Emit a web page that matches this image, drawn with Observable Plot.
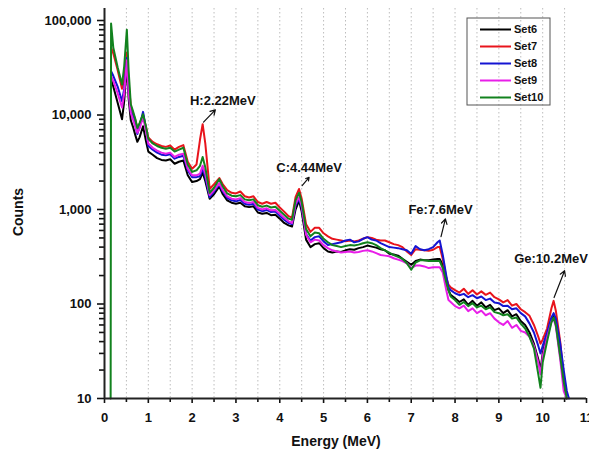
<!DOCTYPE html>
<html><head><meta charset="utf-8">
<script src="https://cdn.jsdelivr.net/npm/d3@7"></script>
<script src="https://cdn.jsdelivr.net/npm/@observablehq/plot@0.6"></script>
<style>body{margin:0;background:#fff;} #chart{position:relative;width:589px;height:449px;}</style>
</head><body><div id="chart"></div>
<script>
const energy = [0.14,0.15,0.2,0.3,0.4,0.45,0.51,0.55,0.6,0.65, 0.7,0.75,0.8,0.88,0.95,1.0,1.1,1.2,1.3,1.4, 1.5,1.6,1.7,1.8,1.9,2.0,2.1,2.18,2.24,2.3, 2.4,2.5,2.62,2.7,2.8,2.9,3.0,3.1,3.2,3.3, 3.4,3.5,3.6,3.7,3.8,3.9,4.0,4.1,4.2,4.28, 4.36,4.44,4.5,4.6,4.7,4.8,4.9,5.0,5.1,5.2, 5.3,5.4,5.5,5.6,5.7,5.8,5.9,6.0,6.1,6.2, 6.3,6.4,6.5,6.6,6.7,6.8,6.9,7.0,7.1,7.2, 7.3,7.4,7.5,7.6,7.65,7.72,7.8,7.85,7.9,8.0, 8.1,8.2,8.3,8.4,8.5,8.6,8.7,8.8,8.9,9.0, 9.1,9.2,9.3,9.4,9.5,9.6,9.7,9.8,9.9,9.95, 10.0,10.1,10.2,10.25,10.3,10.4,10.48,10.55,10.6];

const set6 = [null,24000,20000,13500,9000,14000,34000,15000,8800,7500, 6200,5200,5800,7600,5200,4100,3800,3500,3350,3300, 3400,3050,3200,3300,2300,1950,2000,2100,2450,2000, 1300,1450,1750,1450,1250,1180,1150,1180,1080,1060, 1080,930,900,920,870,880,800,720,680,660, 1000,1240,950,480,400,430,440,390,360,350, 360,355,370,380,375,390,400,415,405,395, 380,370,340,335,325,300,280,260,285,295, 290,290,295,300,300,260,175,140,125,115, 105,112,98,108,96,104,92,98,86,90, 80,86,74,78,66,60,50,38,26,20, 30,48,70,76,62,30,14,10,null];

const set7 = [null,52000,45000,30000,19000,24000,46000,22000,12500,10500, 9000,7300,8000,10000,7400,5800,5200,4900,4700,4600, 4750,4300,4600,4800,3200,2700,3000,5500,8000,5000, 1650,1850,2150,1850,1600,1500,1480,1550,1380,1340, 1380,1200,1150,1200,1150,1180,1050,950,850,820, 1350,1650,1300,700,580,640,640,560,520,490, 480,470,460,470,460,470,490,510,500,480, 470,470,450,430,420,400,360,330,380,375, 370,365,375,400,400,300,190,160,150,140, 132,145,128,140,126,136,125,132,118,112, 104,110,96,100,88,82,75,60,45,38, 42,55,90,108,85,40,17,11,null];

const set8 = [null,29000,26000,20000,14000,19000,40000,18000,11000,9500, 8000,6300,7500,10800,7000,4700,4300,4000,3800,3750, 3850,3450,3600,3700,2600,2200,2200,2250,2700,2200, 1350,1550,1850,1550,1330,1250,1220,1260,1150,1120, 1150,1000,960,990,940,950,860,780,720,700, 1100,1300,1050,550,470,510,520,460,420,430, 440,450,470,480,450,460,490,510,480,470, 440,420,400,395,390,380,370,340,410,380, 370,380,400,450,470,330,200,150,140,130, 124,128,118,124,115,120,110,114,104,102, 95,96,88,90,80,74,62,50,36,30, 36,50,72,80,70,38,20,12,10];

const set9 = [null,26000,23000,17000,12000,17000,38000,17000,10500,9000, 7600,6500,7200,9500,6600,5000,4500,4200,4000,3900, 4000,3600,3800,3900,2700,2300,2300,2400,2900,2400, 1420,1600,1900,1600,1380,1300,1280,1320,1200,1170, 1200,1040,1000,1030,980,990,900,820,750,720, 1150,1350,1100,540,450,480,470,420,390,370, 360,350,355,360,350,355,365,370,360,345, 330,325,320,305,295,285,270,240,255,255, 250,240,245,245,245,215,140,110,105,95, 90,96,84,90,80,85,76,80,70,64, 60,66,56,60,52,50,45,36,24,18, 28,44,65,70,58,26,12,10,null];

const set10 = [10,93000,52000,32000,21000,33000,80000,30000,13000,11000, 9200,7300,8200,10200,7400,5600,5000,4700,4500,4400, 4500,4100,4300,4500,3000,2500,2600,2900,3600,2800, 1500,1700,2100,1750,1480,1400,1380,1420,1280,1250, 1280,1110,1070,1100,1050,1070,970,880,800,780, 1250,1500,1200,620,520,570,560,490,450,420, 410,400,410,420,415,425,440,450,440,420, 390,370,350,330,315,300,270,230,275,290, 290,285,285,285,285,240,170,140,120,110, 98,105,95,102,92,96,88,92,82,80, 76,78,70,72,62,55,45,34,18,13, 24,40,64,72,60,28,15,10,null];

const seriesNames = ["Set6","Set7","Set8","Set9","Set10"];
const seriesColors = ["#000000","#e8141c","#1414d2","#e81ee8","#12821e"];

const xMajorTicks = [0,1,2,3,4,5,6,7,8,9,10,11];
const xMinorTicks = [0.5,1.5,2.5,3.5,4.5,5.5,6.5,7.5,8.5,9.5,10.5];
const xGridLines = [0.5,1,1.5,2,2.5,3,3.5,4,4.5,5,5.5,6,6.5,7,7.5,8,8.5,9,9.5,10,10.5];
const yMajorTicks = [10,100,1000,10000,100000];
const yMinorTicks = [20,30,40,50,60,70,80,90,200,300,400,500,600,700,800,900,2000,3000,4000,5000,6000,7000,8000,9000,20000,30000,40000,50000,60000,70000,80000,90000];

const annLabels = ["H:2.22MeV","C:4.44MeV","Fe:7.6MeV","Ge:10.2MeV"];
const annTextE = [2.70, 4.67, 7.67, 10.19];
const annTextC = [14000, 2730, 990, 302];
const annFromE = [2.26, 4.51, 7.68, 10.26];
const annFromC = [8400, 1790, 516, 117];
const annToE = [2.53, 4.67, 7.78, 10.50];
const annToC = [11350, 2190, 794, 225];

const seriesValues = [set6, set7, set8, set9, set10];
const rows = [];
seriesNames.forEach((name, i) => energy.forEach((e, j) => {
  const v = seriesValues[i][j];
  if (v != null) rows.push({energy: e, counts: v, set: name});
}));
const annotations = annLabels.map((label, i) => ({label, tx: annTextE[i], ty: annTextC[i], x1: annFromE[i], y1: annFromC[i], x2: annToE[i], y2: annToC[i]}));

const plot = Plot.plot({
  width: 589, height: 449,
  marginLeft: 104, marginRight: 3, marginTop: 8, marginBottom: 51,
  style: {fontFamily: "'Liberation Sans', Arial, sans-serif", fontWeight: "bold", fontSize: "13px", background: "#fff", color: "#111"},
  x: {domain: [0, 11]},
  y: {type: "log", domain: [10, 134000]},
  color: {domain: seriesNames, range: seriesColors},
  marks: [
    Plot.ruleX(xGridLines, {stroke: "#bdbdbd", strokeDasharray: "1.5,2.5", strokeWidth: 1}),
    Plot.line(rows, {x: "energy", y: "counts", z: "set", stroke: "set", strokeWidth: 2, strokeLinejoin: "round"}),
    Plot.axisX({ticks: xMajorTicks, tickSize: 5, tickPadding: 9, label: null, tickFormat: d => String(d), strokeWidth: 1.6}),
    Plot.axisX({ticks: xMinorTicks, tickSize: 4, tickFormat: () => "", label: null, strokeWidth: 1.6}),
    Plot.axisY({ticks: yMajorTicks, tickSize: 7, tickPadding: 6, tickFormat: ",", label: null, strokeWidth: 1.6}),
    Plot.axisY({ticks: yMinorTicks, tickSize: 5, tickFormat: () => "", label: null, strokeWidth: 1.6}),
    Plot.ruleX([0], {stroke: "#222", strokeWidth: 2}),
    Plot.ruleY([10], {stroke: "#222", strokeWidth: 2}),
    Plot.text(annotations, {x: "tx", y: "ty", text: "label", fontSize: 13, fontWeight: "bold", fill: "#111"}),
    Plot.arrow(annotations, {x1: "x1", y1: "y1", x2: "x2", y2: "y2", stroke: "#111", strokeWidth: 1.2, headLength: 7})
  ]
});

const svg = d3.select(plot);
const lg = svg.append("g").style("font-family", "'Liberation Sans', Arial, sans-serif");
lg.append("rect").attr("x", 467).attr("y", 18).attr("width", 83).attr("height", 87)
  .attr("fill", "none").attr("stroke", "#555").attr("stroke-width", 1);
seriesNames.forEach((n, i) => {
  const y = 29.5 + i * 17;
  lg.append("line").attr("x1", 480).attr("x2", 511).attr("y1", y).attr("y2", y)
    .attr("stroke", seriesColors[i]).attr("stroke-width", 2);
  lg.append("text").attr("x", 514).attr("y", y).attr("dy", "0.35em").attr("text-anchor", "start").text(n)
    .style("font-size", "11px").style("font-weight", "bold").attr("fill", "#111");
});
svg.append("text").attr("transform", "translate(18,212) rotate(-90)").attr("text-anchor", "middle")
  .attr("dy", "0.35em").style("font-size", "14px").style("font-weight", "bold").attr("fill", "#111").text("Counts");
svg.append("text").attr("x", 336).attr("y", 441).attr("text-anchor", "middle")
  .attr("dy", "0.35em").style("font-size", "14px").style("font-weight", "bold").attr("fill", "#111").text("Energy (MeV)");

document.getElementById("chart").appendChild(plot);
</script>
</body></html>
